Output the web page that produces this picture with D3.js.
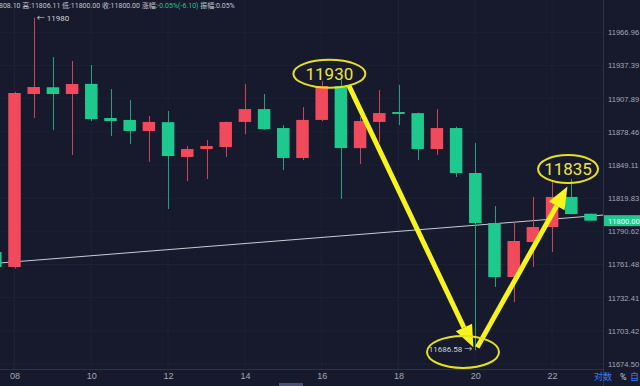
<!DOCTYPE html>
<html>
<head>
<meta charset="utf-8">
<script src="https://cdn.jsdelivr.net/npm/d3@7/dist/d3.min.js"></script>
<style>
  html, body { margin: 0; padding: 0; background: #161a2c; }
  svg { display: block; }
</style>
</head>
<body>
<div id="chart"></div>
<script>

// candles, index -1 .. 30 (12h bars), chinese colours: red = up, green = down
var idx   = [-1, 0, 1, 2, 3, 4, 5, 6, 7, 8, 9, 10, 11, 12, 13, 14, 15, 16, 17, 18, 19, 20, 21, 22, 23, 24, 25, 26, 27, 28, 29, 30];
var opens = [11772.4, 11759.3, 11912.0, 11918.0, 11912.0, 11921.0, 11890.7, 11889.0, 11879.2, 11887.0, 11856.2, 11863.2, 11865.0, 11887.2, 11898.6, 11881.8, 11855.3, 11889.0, 11919.1, 11864.0, 11887.2, 11896.0, 11895.0, 11863.2, 11881.8, 11842.0, 11797.9, 11750.5, 11781.2, 11794.4, 11820.9, 11806.1];
var highs = [11774.0, 11914.0, 11980.0, 11945.0, 11941.4, 11937.8, 11916.4, 11906.6, 11892.5, 11896.9, 11865.9, 11871.2, 11887.5, 11921.0, 11912.0, 11884.4, 11900.4, 11923.5, 11924.4, 11891.6, 11915.5, 11920.2, 11895.5, 11898.6, 11883.0, 11868.5, 11812.9, 11798.8, 11820.9, 11835.9, 11836.8, 11806.11];
var lows  = [11758.0, 11758.0, 11890.7, 11880.0, 11858.0, 11888.0, 11874.7, 11867.6, 11851.8, 11810.3, 11834.9, 11836.6, 11856.2, 11876.4, 11880.5, 11844.7, 11853.5, 11888.0, 11819.1, 11850.0, 11869.4, 11884.4, 11853.5, 11858.0, 11838.5, 11686.58, 11741.7, 11728.6, 11759.3, 11772.4, 11805.8, 11800.0];
var closes= [11759.3, 11912.9, 11918.2, 11912.0, 11920.9, 11889.8, 11888.0, 11879.2, 11887.2, 11857.0, 11863.2, 11865.9, 11887.2, 11898.6, 11880.9, 11855.3, 11889.0, 11919.1, 11864.1, 11888.0, 11895.1, 11894.3, 11863.2, 11881.8, 11842.0, 11797.9, 11750.5, 11782.1, 11794.4, 11820.9, 11805.8, 11800.0];

var priceTicks = [11966.96, 11937.39, 11907.89, 11878.46, 11849.11, 11819.83, 11790.62, 11761.48, 11732.41, 11703.42, 11674.50];
var dateTickIdx = [0, 4, 8, 12, 16, 20, 24, 28];
var dateLabels  = ["08", "10", "12", "14", "16", "18", "20", "22"];

var lastPrice = 11800.00;
var trendLine = [[-0.76, 11762.8], [30.66, 11804.9]];

// hand drawn notes: [index, price, label, rx]
var notes = [[16.4, 11930, "11930", 36], [28.83, 11845.6, "11835", 30]];
var lowRing = [23.36, 11685];
var arrowDown = [[17.4, 11920], [23.9, 11689]];
var arrowUp   = [[24.1, 11689], [28.8, 11830]];

var W = 640, H = 386;
var plotRight = 603, axisY = 369;

var svg = d3.select("#chart").append("svg")
	.attr("width", W)
	.attr("height", H)
	.style("font-family", "Roboto, 'Noto Sans CJK SC', sans-serif");

svg.append("rect").attr("width", W).attr("height", H).attr("fill", "#161a2c");

var x = d3.scaleLinear().domain([0, 28]).range([14.5, 552.1]);
var y = d3.scaleLog().domain([11674.5, 11966.96]).range([364, 32.3]);

// grid
svg.append("g").selectAll("line").data(priceTicks).enter().append("line")
	.attr("x1", 0).attr("x2", plotRight)
	.attr("y1", function(d){ return y(d); }).attr("y2", function(d){ return y(d); })
	.attr("stroke", "#1d2134").attr("stroke-width", 1);
svg.append("g").selectAll("line").data(dateTickIdx).enter().append("line")
	.attr("x1", function(d){ return x(d); }).attr("x2", function(d){ return x(d); })
	.attr("y1", 0).attr("y2", axisY)
	.attr("stroke", "#1d2134").attr("stroke-width", 1);

// axis frame
svg.append("line").attr("x1", 0).attr("x2", plotRight).attr("y1", axisY + 0.5).attr("y2", axisY + 0.5)
	.attr("stroke", "#2c3248");
svg.append("line").attr("x1", plotRight + 0.5).attr("x2", plotRight + 0.5).attr("y1", 0).attr("y2", H)
	.attr("stroke", "#2c3248");

// right price axis
var yAxis = d3.axisRight(y).tickValues(priceTicks).tickSize(0).tickPadding(5)
	.tickFormat(function(d){ return d.toFixed(2); });
var gy = svg.append("g").attr("transform", "translate(" + plotRight + ",0)").call(yAxis);
gy.select(".domain").remove();
gy.selectAll("text").attr("fill", "#a3a8b8").attr("font-size", 7.6);

// bottom date axis
var xAxis = d3.axisBottom(x).tickValues(dateTickIdx).tickSize(0).tickPadding(4)
	.tickFormat(function(d, i){ return dateLabels[i]; });
var gx = svg.append("g").attr("transform", "translate(0," + axisY + ")").call(xAxis);
gx.select(".domain").remove();
gx.selectAll("text").attr("fill", "#a3a8b8").attr("font-size", 9);

// trend line
svg.append("line")
	.attr("x1", x(trendLine[0][0])).attr("y1", y(trendLine[0][1]))
	.attr("x2", x(trendLine[1][0])).attr("y2", y(trendLine[1][1]))
	.attr("stroke", "#c9ccd6").attr("stroke-width", 1);

// candles
var candles = idx.map(function(d, i){
	return { i: d, o: opens[i], h: highs[i], l: lows[i], c: closes[i] };
});
var bodyW = 12.5;
var cg = svg.append("g").selectAll("g").data(candles).enter().append("g");
cg.append("line")
	.attr("x1", function(d){ return Math.round(x(d.i)) + 0.5; })
	.attr("x2", function(d){ return Math.round(x(d.i)) + 0.5; })
	.attr("y1", function(d){ return y(d.h); })
	.attr("y2", function(d){ return y(d.l); })
	.attr("stroke", function(d){ return d.c >= d.o ? "#c9455a" : "#1fa37c"; })
	.attr("stroke-width", 1);
cg.append("rect")
	.attr("x", function(d){ return x(d.i) - bodyW / 2; })
	.attr("width", bodyW)
	.attr("y", function(d){ return y(Math.max(d.o, d.c)); })
	.attr("height", function(d){ return Math.max(1.5, Math.abs(y(d.o) - y(d.c))); })
	.attr("fill", function(d){ return d.c >= d.o ? "#f24a5d" : "#1ec98e"; });

// last price label
svg.append("rect")
	.attr("x", plotRight + 1).attr("y", y(lastPrice) - 5.5)
	.attr("width", W - plotRight).attr("height", 11)
	.attr("fill", "#1ec98e");
svg.append("text")
	.attr("x", plotRight + 5).attr("y", y(lastPrice) + 3)
	.attr("fill", "#ffffff").attr("font-size", 7.6)
	.text(lastPrice.toFixed(2));

// high / low markers
svg.append("text")
	.attr("x", x(1) + 3).attr("y", y(11980) + 3)
	.attr("fill", "#d0d3dc").attr("font-size", 8)
	.text("\u2190 11980");
svg.append("text")
	.attr("x", x(24) - 3).attr("y", y(11686.58) + 2)
	.attr("text-anchor", "end")
	.attr("fill", "#d0d3dc").attr("font-size", 8)
	.text("11686.58 \u2192");

// header
var header = svg.append("text").attr("x", -1).attr("y", 8).attr("font-size", 7).attr("fill", "#c3c6d0");
header.append("tspan").text("808.10 高:11806.11 低:11800.00 收:11800.00 涨幅:");
header.append("tspan").attr("fill", "#1ec98e").text("-0.05%(-6.10)");
header.append("tspan").text(" 振幅:0.05%");

// bottom right buttons
svg.append("text").attr("x", 594).attr("y", 380).attr("font-size", 9).attr("fill", "#3b7cf0").text("对数");
svg.append("text").attr("x", 620).attr("y", 380).attr("font-size", 9).attr("fill", "#c3c6d0").text("%");
svg.append("text").attr("x", 630).attr("y", 380).attr("font-size", 9).attr("fill", "#3b7cf0").text("自");
svg.append("rect").attr("x", 279).attr("y", 383).attr("width", 24).attr("height", 3).attr("fill", "#4b4f6e");

// yellow arrows
var yellow = "#f7f31c";
function arrow(pts){
	var x1 = x(pts[0][0]), y1 = y(pts[0][1]), x2 = x(pts[1][0]), y2 = y(pts[1][1]);
	var a = Math.atan2(y2 - y1, x2 - x1), len = 22, half = 9;
	var bx = x2 - len * Math.cos(a), by = y2 - len * Math.sin(a);
	svg.append("line").attr("x1", x1).attr("y1", y1).attr("x2", bx).attr("y2", by)
		.attr("stroke", yellow).attr("stroke-width", 5);
	svg.append("path")
		.attr("d", "M" + x2 + "," + y2 +
			"L" + (bx + half * Math.sin(a)) + "," + (by - half * Math.cos(a)) +
			"L" + (bx - half * Math.sin(a)) + "," + (by + half * Math.cos(a)) + "Z")
		.attr("fill", yellow);
}
arrow(arrowDown);
arrow(arrowUp);

// ellipses with labels
notes.forEach(function(n){
	var cx = x(n[0]), cy = y(n[1]);
	svg.append("ellipse").attr("cx", cx).attr("cy", cy).attr("rx", n[3]).attr("ry", 14)
		.attr("fill", "none").attr("stroke", "#e6e21e").attr("stroke-width", 2);
	svg.append("text").attr("x", cx).attr("y", cy + 6).attr("text-anchor", "middle")
		.attr("font-size", 17).attr("fill", "#ece642").text(n[2]);
});
svg.append("ellipse").attr("cx", x(lowRing[0])).attr("cy", y(lowRing[1])).attr("rx", 36).attr("ry", 16)
	.attr("fill", "none").attr("stroke", "#e6e21e").attr("stroke-width", 2);

</script>
</body>
</html>
